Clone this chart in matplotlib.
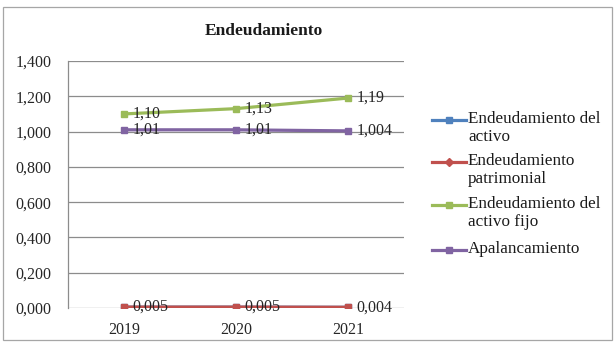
import matplotlib.pyplot as plt
from matplotlib.lines import Line2D
from matplotlib.patches import Rectangle
from matplotlib.ticker import FuncFormatter

plt.rcParams['font.family'] = ['Liberation Serif', 'DejaVu Serif']

# Datos
years = ['2019', '2020', '2021']
series_names = ['Endeudamiento del\nactivo', 'Endeudamiento\npatrimonial',
                'Endeudamiento del\nactivo fijo', 'Apalancamiento']
activo = [0.005, 0.005, 0.004]
patrimonial = [0.005, 0.005, 0.004]
activo_fijo = [1.10, 1.13, 1.19]
apalancamiento = [1.01, 1.01, 1.004]
label_patrimonial = ['0,005', '0,005', '0,004']
label_fijo = ['1,10', '1,13', '1,19']
label_apal = ['1,01', '1,01', '1,004']
y_ticks = [0.0, 0.2, 0.4, 0.6, 0.8, 1.0, 1.2, 1.4]

COLORS = ['#4F81BD', '#C0504D', '#9BBB59', '#8064A2']
MARKERS = ['s', 'D', 's', 's']
LINE_WIDTH = 2.3
GRID_COLOR = '#8c8c8c'

fig = plt.figure(figsize=(6.14, 3.45), dpi=100)
W, H = 614, 345

# Borde exterior del gráfico
fig.add_artist(Rectangle((3 / W, 1 - 340 / H), 609 / W, 333 / H,
                         transform=fig.transFigure, fill=False,
                         edgecolor='#a6a6a6', linewidth=0.9))

ax = fig.add_axes([68 / W, 1 - 308 / H, 336 / W, 247 / H])
x = list(range(len(years)))
all_series = [activo, patrimonial, activo_fijo, apalancamiento]
for vals, color in zip(all_series, COLORS):
    ax.plot(x, vals, color=color, linewidth=LINE_WIDTH, marker='s',
            markersize=5, zorder=3)

# Etiquetas de datos
for vals, labels in [(patrimonial, label_patrimonial),
                     (activo_fijo, label_fijo),
                     (apalancamiento, label_apal)]:
    for xi, v, lab in zip(x, vals, labels):
        ax.annotate(lab, (xi, v), xytext=(6, 0), textcoords='offset points',
                    ha='left', va='center', fontsize=11.5, color='#262626',
                    zorder=4)

ax.set_xlim(-0.5, 2.5)
ax.set_ylim(0, 1.4)
ax.set_yticks(y_ticks)
ax.yaxis.set_major_formatter(FuncFormatter(lambda v, p: f'{v:.3f}'.replace('.', ',')))
ax.set_xticks(x)
ax.set_xticklabels(years)
ax.tick_params(axis='both', length=0, labelsize=11.5, colors='#262626')
ax.tick_params(axis='y', pad=12)
ax.tick_params(axis='x', pad=10)
ax.grid(axis='y', color=GRID_COLOR, linewidth=0.9)
ax.set_axisbelow(True)
for side in ['top', 'right', 'bottom']:
    ax.spines[side].set_visible(False)
ax.spines['left'].set_color(GRID_COLOR)
ax.spines['left'].set_linewidth(0.9)

fig.text(264 / W, 1 - 31 / H, 'Endeudamiento', ha='center', va='center',
         fontsize=12.5, fontweight='bold', color='#1a1a1a')

# Leyenda manual (el marcador alineado con la primera línea del texto)
legend_y = [120, 162, 205, 250]
for name, color, marker, yy in zip(series_names, COLORS, MARKERS, legend_y):
    yf = 1 - yy / H
    fig.add_artist(Line2D([432 / W, 466 / W], [yf, yf], color=color,
                          linewidth=LINE_WIDTH, transform=fig.transFigure))
    fig.add_artist(Line2D([449 / W], [yf], color=color, marker=marker,
                          markersize=5 if marker == 's' else 4,
                          transform=fig.transFigure))
    fig.text(468 / W, yf + 9 / H, name, ha='left', va='top', fontsize=12.3,
             color='#1a1a1a', linespacing=1.15)

fig.savefig('out.png', dpi=100)
